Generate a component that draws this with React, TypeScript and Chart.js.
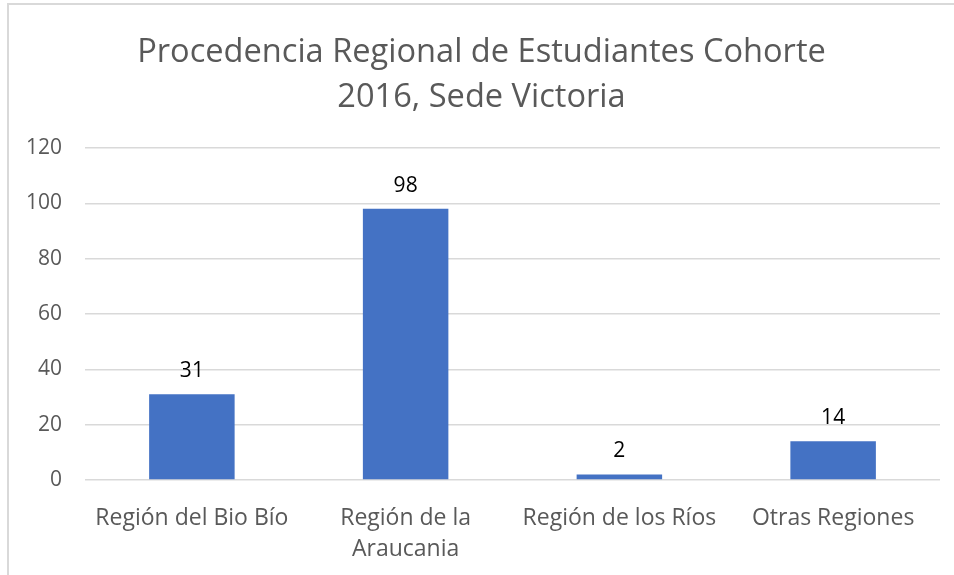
import React, { useEffect, useRef } from "react";
import { Chart, registerables } from "chart.js";

Chart.register(...registerables);

const categories: (string | string[])[] = [
  "Región del Bio Bío",
  ["Región de la", "Araucania"],
  "Región de los Ríos",
  "Otras Regiones",
];
const values: number[] = [31, 98, 2, 14];
const titleLines: string[] = ["Procedencia Regional de Estudiantes Cohorte", "2016, Sede Victoria"];
const yMin = 0;
const yMax = 120;
const yStep = 20;

const FONT = "'Open Sans'";

const dataLabelPlugin = {
  id: "dataLabels",
  afterDatasetsDraw(chart: any) {
    const ctx = chart.ctx;
    const meta = chart.getDatasetMeta(0);
    ctx.save();
    ctx.font = `21px ${FONT}`;
    ctx.fillStyle = "#000000";
    ctx.textAlign = "center";
    ctx.textBaseline = "middle";
    meta.data.forEach((bar: any, i: number) => {
      ctx.fillText(String(values[i]), bar.x, bar.y - 23);
    });
    ctx.restore();
  },
};

export default function App() {
  const ref = useRef<HTMLCanvasElement>(null);
  useEffect(() => {
    if (!ref.current) return;
    const chart = new Chart(ref.current, {
      type: "bar",
      data: {
        labels: categories,
        datasets: [
          {
            data: values,
            backgroundColor: "#4472C4",
            borderWidth: 0,
            barPercentage: 0.4,
            categoryPercentage: 1,
          },
        ],
      },
      options: {
        responsive: false,
        animation: false,
        layout: { padding: { left: 23, right: 14, top: 0, bottom: 0 } },
        plugins: {
          legend: { display: false },
          tooltip: { enabled: false },
          title: {
            display: true,
            text: titleLines,
            color: "#595959",
            font: { family: FONT, size: 32.6, weight: "normal", lineHeight: 45 / 32.6 },
            padding: { top: 30, bottom: 28 },
          },
        },
        scales: {
          x: {
            grid: { display: false },
            border: { display: false },
            ticks: {
              color: "#595959",
              font: { family: FONT, size: 23, lineHeight: 31 / 23 },
              padding: 15,
              maxRotation: 0,
              autoSkip: false,
            },
            afterFit: (scale: any) => {
              scale.height = 95;
            },
          },
          y: {
            min: yMin,
            max: yMax,
            grid: { color: "#d9d9d9", lineWidth: 1.5, drawTicks: false },
            border: { display: false },
            ticks: {
              stepSize: yStep,
              color: "#595959",
              font: { family: FONT, size: 21 },
              padding: 23,
            },
            afterFit: (scale: any) => {
              scale.width = 62;
            },
          },
        },
      },
      plugins: [dataLabelPlugin],
    });
    return () => chart.destroy();
  }, []);

  return (
    <div style={{ position: "absolute", left: 0, top: 0, width: 954, height: 575, background: "#fff", overflow: "hidden" }}>
      <div
        style={{
          position: "absolute",
          left: 7,
          top: 3,
          width: 947,
          height: 572,
          borderLeft: "2px solid #d9d9d9",
          borderTop: "2px solid #d9d9d9",
          boxSizing: "border-box",
        }}
      />
      <canvas ref={ref} width={954} height={575} style={{ position: "absolute", left: 0, top: 0, width: 954, height: 575 }} />
    </div>
  );
}
